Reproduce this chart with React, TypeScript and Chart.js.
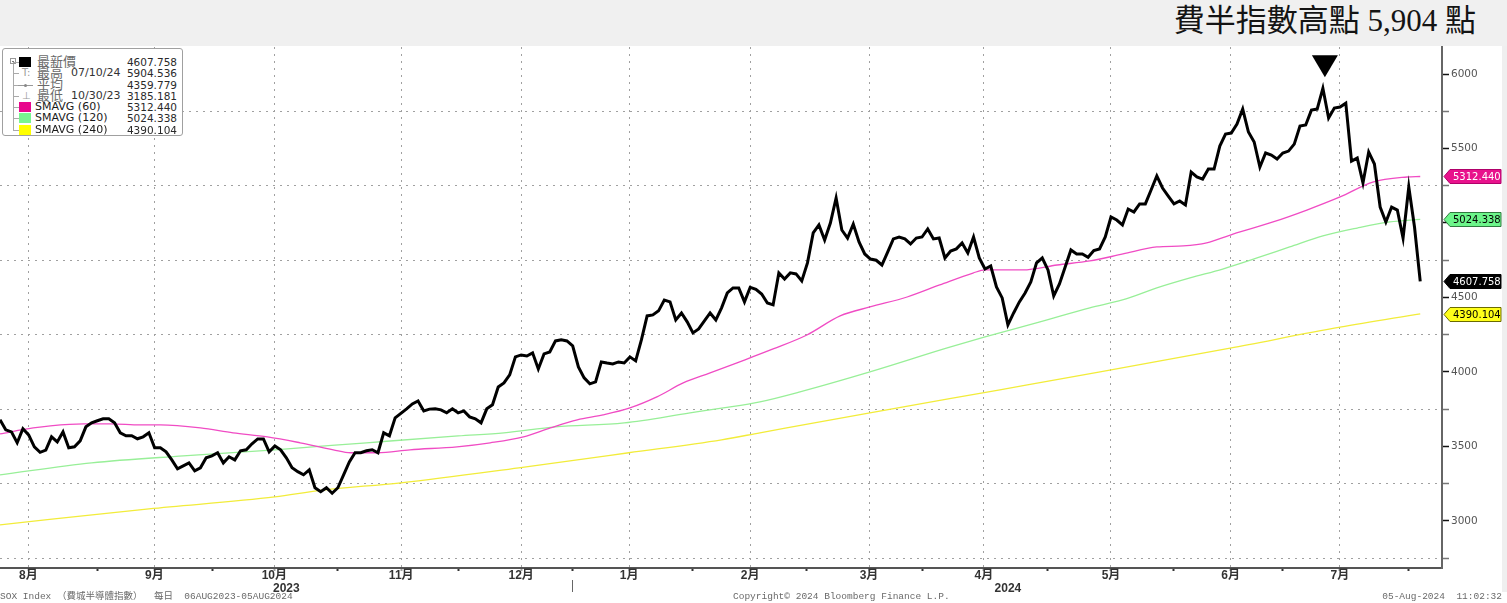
import React, { useEffect, useRef } from 'react';
import { Chart, registerables } from 'chart.js';

Chart.register(...registerables);

// ---- daily closes (trading-day index 0 .. 248) ----
const priceValues = [
  3678, 3611, 3597, 3524, 3618, 3577, 3497, 3460, 3475, 3564,
  3530, 3597, 3490, 3497, 3537, 3631, 3658, 3672, 3685, 3685,
  3658, 3591, 3571, 3571, 3551, 3564, 3591, 3490, 3490, 3463,
  3409, 3349, 3369, 3389, 3336, 3356, 3423, 3436, 3457, 3389,
  3430, 3409, 3470, 3477, 3517, 3550, 3550, 3463, 3503, 3477,
  3423, 3356, 3330, 3309, 3342, 3222, 3195, 3222, 3185.181, 3222,
  3309, 3396, 3457, 3457, 3470, 3477, 3457, 3591, 3571, 3691,
  3722, 3752, 3785, 3805, 3738, 3750, 3752, 3745, 3725, 3752,
  3725, 3738, 3698, 3685, 3658, 3752, 3779, 3899, 3926, 3980,
  4101, 4114, 4107, 4128, 4020, 4121, 4134, 4208, 4215, 4208,
  4175, 4034, 3960, 3920, 3933, 4067, 4060, 4054, 4067, 4060,
  4101, 4074, 4215, 4376, 4383, 4410, 4483, 4470, 4349, 4396,
  4336, 4262, 4289, 4342, 4396, 4349, 4430, 4530, 4564, 4564,
  4470, 4568, 4555, 4523, 4463, 4450, 4665, 4624, 4665, 4658,
  4611, 4732, 4933, 4987, 4886, 5000, 5168, 4953, 4899, 4993,
  4873, 4792, 4758, 4750, 4718, 4805, 4893, 4906, 4893, 4859,
  4899, 4906, 4960, 4893, 4899, 4765, 4812, 4826, 4866, 4799,
  4906, 4765, 4691, 4711, 4571, 4497, 4316, 4396, 4470, 4530,
  4604, 4732, 4765, 4685, 4510, 4591, 4705, 4819, 4792, 4792,
  4770, 4815, 4826, 4906, 5040, 5020, 4987, 5094, 5074, 5128,
  5128, 5222, 5316, 5235, 5181, 5128, 5148, 5121, 5342, 5309,
  5295, 5362, 5362, 5517, 5597, 5604, 5664, 5765, 5611, 5544,
  5376, 5470, 5456, 5430, 5470, 5483, 5530, 5651, 5658, 5758,
  5765, 5904.536, 5705, 5772, 5779, 5805, 5416, 5436, 5269, 5477,
  5396, 5107, 5007, 5107, 5087, 4899, 5242, 4973, 4607.758,
];

// ---- moving averages, sampled along the drawn curves (day index, value) ----
const sma60Days = [0, 5.8, 8.8, 14.6, 19.3, 24.5, 28, 35, 40.7, 46.7, 52.4, 58.2, 61.2, 65.9, 71.6, 79.8, 85.6, 91.4, 96.1, 100.8, 105.3, 110, 114.7, 119.3, 124, 128.7, 135, 140.9, 146.7, 151.9, 158.4, 164.1, 169.9, 172, 178.6, 184.6, 190.3, 196.1, 202, 206.6, 210.7, 215.3, 222.3, 228.2, 234, 239.7, 245.7, 248];
const sma60Values = [3584, 3624, 3638, 3651, 3651, 3644, 3644, 3624, 3591, 3564, 3524, 3477, 3457, 3457, 3477, 3497, 3524, 3564, 3624, 3678, 3711, 3758, 3832, 3926, 3993, 4061, 4154, 4248, 4376, 4436, 4503, 4584, 4664, 4685, 4685, 4718, 4745, 4792, 4839, 4846, 4866, 4926, 5007, 5087, 5175, 5275, 5309, 5312.44];

const sma120Days = [0, 16, 32, 48, 64, 80, 88, 97, 109, 120.5, 126.3, 132.7, 139.7, 151.9, 165.4, 172, 181.6, 190.3, 196, 202, 207.8, 213.5, 219.5, 225.2, 231, 237, 242.7, 248];
const sma120Values = [3309, 3389, 3436, 3477, 3524, 3570, 3591, 3631, 3658, 3725, 3758, 3799, 3866, 4000, 4161, 4235, 4336, 4430, 4483, 4564, 4631, 4691, 4765, 4839, 4913, 4966, 5007, 5024.338];

const sma240Days = [0, 26, 48, 56, 70, 90.6, 109.8, 126, 132.7, 151.9, 174.6, 192.1, 214.8, 234, 248];
const sma240Values = [2973, 3080, 3160, 3205, 3255, 3356, 3457, 3544, 3591, 3725, 3880, 4000, 4160, 4300, 4390.104];

// ---- axis ticks ----
const monthLabels = ['8月', '9月', '10月', '11月', '12月', '1月', '2月', '3月', '4月', '5月', '6月', '7月'];
const monthCenters = [4.96, 26.95, 47.9, 70.06, 91.0, 109.86, 130.98, 151.75, 171.8, 194.0, 214.9, 233.97];
const monthStarts = [17, 37.1, 58.9, 80, 99.9, 120.9, 140.9, 161, 183, 205, 224, 246];
const yearLabels = ['2023', '2024'];
const yearCenters = [50, 176];
const yearBreaks = [99.9];
const yTickValues = [2750, 3000, 3250, 3500, 3750, 4000, 4250, 4500, 4750, 5000, 5250, 5500, 5750, 6000];

// ---- legend ----
const legendNames = ['最新價', '最高', '平均', '最低', 'SMAVG (60)', 'SMAVG (120)', 'SMAVG (240)'];
const legendDates = ['', '07/10/24', '', '10/30/23', '', '', ''];
const legendValues = ['4607.758', '5904.536', '4359.779', '3185.181', '5312.440', '5024.338', '4390.104'];
const legendSwatches = ['#000000', '', '', '', '#e8078c', '#78f590', '#ffff00'];

const lineColors = ['#000000', '#f04cc4', '#98ef98', '#f2ec3a'];
const tagFill = ['#000000', '#e8128c', '#6cf58a', '#ffff1a'];
const tagText = ['#ffffff', '#ffffff', '#000000', '#000000'];
const tagStroke = ['#000000', '#b0006a', '#2f7a3f', '#6b6b00'];

const X_MIN = 0;
const X_MAX = 251.8;

const isIn = (arr: number[], v: number) => arr.some((a) => Math.abs(a - v) < 1e-6);

export default function App() {
  const ref = useRef<HTMLCanvasElement | null>(null);

  useEffect(() => {
    document.body.style.margin = '0';
    const canvas = ref.current;
    if (!canvas) return;

    const tagPlugin = {
      id: 'valueTags',
      afterDraw(chart: any) {
        const { ctx, chartArea } = chart;
        const y = chart.scales.y;
        const order = [1, 2, 0, 3];
        ctx.save();
        order.forEach((di) => {
          const data = chart.data.datasets[di].data as any[];
          const v = data[data.length - 1].y;
          const py = Math.round(y.getPixelForValue(v)) + 0.5;
          const x0 = chartArea.right + 2;
          const x1 = x0 + 6;
          const x2 = 1501;
          const h = 7;
          ctx.beginPath();
          ctx.moveTo(x0, py);
          ctx.lineTo(x1, py - h);
          ctx.lineTo(x2, py - h);
          ctx.lineTo(x2, py + h);
          ctx.lineTo(x1, py + h);
          ctx.closePath();
          ctx.fillStyle = tagFill[di];
          ctx.fill();
          ctx.lineWidth = 1;
          ctx.strokeStyle = tagStroke[di];
          ctx.stroke();
          ctx.fillStyle = tagText[di];
          ctx.font = '10px "DejaVu Sans"';
          ctx.textBaseline = 'middle';
          ctx.textAlign = 'left';
          ctx.fillText(v.toFixed(3), x1 + 3, py + 0.5);
        });
        ctx.restore();
      },
    };

    const peakPlugin = {
      id: 'peakMarker',
      afterDatasetsDraw(chart: any) {
        const { ctx } = chart;
        const data = chart.data.datasets[0].data as any[];
        let best = data[0];
        data.forEach((p: any) => { if (p.y > best.y) best = p; });
        const px = chart.scales.x.getPixelForValue(best.x);
        const py = chart.scales.y.getPixelForValue(best.y);
        ctx.save();
        ctx.beginPath();
        ctx.moveTo(px + 2, py - 11);
        ctx.lineTo(px - 11, py - 33);
        ctx.lineTo(px + 15, py - 33);
        ctx.closePath();
        ctx.fillStyle = '#000';
        ctx.fill();
        ctx.restore();
      },
    };

    const chart = new Chart(canvas, {
      type: 'line',
      data: {
        datasets: [
          {
            label: '最新價',
            data: priceValues.map((v, i) => ({ x: i, y: v })),
            borderColor: lineColors[0],
            borderWidth: 3,
            pointRadius: 0,
            tension: 0,
          },
          {
            label: 'SMAVG (60)',
            data: sma60Days.map((d, i) => ({ x: d, y: sma60Values[i] })),
            borderColor: lineColors[1],
            borderWidth: 1.3,
            pointRadius: 0,
            cubicInterpolationMode: 'monotone',
          },
          {
            label: 'SMAVG (120)',
            data: sma120Days.map((d, i) => ({ x: d, y: sma120Values[i] })),
            borderColor: lineColors[2],
            borderWidth: 1.3,
            pointRadius: 0,
            cubicInterpolationMode: 'monotone',
          },
          {
            label: 'SMAVG (240)',
            data: sma240Days.map((d, i) => ({ x: d, y: sma240Values[i] })),
            borderColor: lineColors[3],
            borderWidth: 1.3,
            pointRadius: 0,
            cubicInterpolationMode: 'monotone',
          },
        ],
      },
      options: {
        animation: false,
        responsive: false,
        maintainAspectRatio: false,
        layout: { padding: { top: 1, left: 0, right: 0, bottom: 9 } },
        plugins: { legend: { display: false }, tooltip: { enabled: false } },
        scales: {
          x: {
            type: 'linear',
            position: 'bottom',
            min: X_MIN,
            max: X_MAX,
            bounds: 'data',
            afterBuildTicks: (s: any) => {
              s.ticks = [...monthCenters, ...monthStarts].sort((a, b) => a - b).map((v) => ({ value: v }));
            },
            afterFit: (s: any) => { s.height = 12; s.paddingLeft = 0; s.paddingRight = 0; },
            grid: {
              color: (c: any) => (c.tick && isIn(monthCenters, c.tick.value) ? '#a0a0a0' : 'rgba(0,0,0,0)'),
              tickColor: (c: any) => (c.tick && isIn(monthCenters, c.tick.value) ? '#a0a0a0' : '#333'),
              tickLength: 3,
              tickWidth: 2,
              lineWidth: 1,
            },
            border: { display: true, color: '#555', width: 2, dash: [2, 5] },
            ticks: {
              autoSkip: false,
              maxRotation: 0,
              minRotation: 0,
              padding: -3,
              color: '#333',
              font: { family: '"Liberation Sans", "Noto Sans CJK TC"', size: 12, weight: 'bold' },
              callback: (v: any) => {
                const k = monthCenters.findIndex((m) => Math.abs(m - v) < 1e-6);
                return k >= 0 ? monthLabels[k] : '';
              },
            },
          },
          xYear: {
            type: 'linear',
            position: 'bottom',
            min: X_MIN,
            max: X_MAX,
            bounds: 'data',
            afterBuildTicks: (s: any) => {
              s.ticks = [...yearCenters, ...yearBreaks].sort((a, b) => a - b).map((v) => ({ value: v }));
            },
            afterFit: (s: any) => { s.height = 14; s.paddingLeft = 0; s.paddingRight = 0; },
            grid: {
              drawOnChartArea: false,
              color: (c: any) => (c.tick && isIn(yearBreaks, c.tick.value) ? '#666' : 'rgba(0,0,0,0)'),
              tickColor: (c: any) => (c.tick && isIn(yearBreaks, c.tick.value) ? '#666' : 'rgba(0,0,0,0)'),
              tickLength: 12,
              tickWidth: 1,
            },
            border: { display: false },
            ticks: {
              autoSkip: false,
              maxRotation: 0,
              minRotation: 0,
              padding: -11,
              color: '#333',
              font: { family: '"Liberation Sans", "Noto Sans CJK TC"', size: 12, weight: 'bold' },
              callback: (v: any) => {
                const k = yearCenters.findIndex((m) => Math.abs(m - v) < 1e-6);
                return k >= 0 ? yearLabels[k] : '';
              },
            },
          },
          y: {
            type: 'linear',
            position: 'right',
            min: 2683,
            max: 6182,
            bounds: 'data',
            afterBuildTicks: (s: any) => { s.ticks = yTickValues.map((v) => ({ value: v })); },
            afterFit: (s: any) => { s.width = 65; s.paddingTop = 0; s.paddingBottom = 0; },
            grid: {
              color: (c: any) => (c.tick && c.tick.value % 500 === 0 ? 'rgba(0,0,0,0)' : '#a0a0a0'),
              tickColor: (c: any) => (c.tick && c.tick.value % 500 === 0 ? '#111' : '#777'),
              tickLength: 7,
              tickWidth: 1.5,
              lineWidth: 1,
            },
            border: { display: true, color: '#666', width: 2, dash: [2, 5] },
            ticks: {
              padding: 2,
              color: '#555',
              font: { family: '"DejaVu Sans"', size: 10.5 },
              callback: (v: any) => (Number(v) % 500 === 0 ? String(v) : ''),
            },
          },
        },
      } as any,
      plugins: [peakPlugin, tagPlugin],
    });

    return () => chart.destroy();
  }, []);

  const rowTop = (i: number) => 7 + i * 11.25;

  return (
    <div style={{ position: 'relative', width: 1507, height: 603, background: '#fff', overflow: 'hidden', fontFamily: '"DejaVu Sans", "Noto Sans CJK TC", sans-serif' }}>
      <div style={{ position: 'absolute', left: 0, top: 0, width: 1507, height: 46, background: '#f0f0f0' }} />
      <div style={{ position: 'absolute', right: 31, top: 1, fontFamily: '"Liberation Serif", "Noto Sans CJK TC", serif', fontSize: 31, lineHeight: '40px', color: '#141414', whiteSpace: 'nowrap' }}>
        費半指數高點 5,904 點
      </div>
      <div style={{ position: 'absolute', left: 1502, top: 46, width: 5, height: 546, background: '#efefef' }} />
      <canvas ref={ref} width={1507} height={557} style={{ position: 'absolute', left: 0, top: 46, width: 1507, height: 557 }} />

      {/* legend */}
      <div style={{ position: 'absolute', left: 2, top: 48, width: 181, height: 88, border: '1px solid #a0a0a0', borderRadius: 3, background: '#fff', boxSizing: 'border-box' }}>
        <div style={{ position: 'absolute', left: 7, top: 9, width: 6, height: 6, border: '1px solid #999', boxSizing: 'border-box', background: '#fff' }}>
          <div style={{ position: 'absolute', left: 1, top: 2, width: 2, height: 1, background: '#777' }} />
        </div>
        <div style={{ position: 'absolute', left: 10, top: 15, width: 1, height: 66, background: '#aaa' }} />
        {legendNames.map((name, i) => {
          const top = rowTop(i);
          const isCjk = i < 4;
          return (
            <div key={i} style={{ position: 'absolute', left: 0, top, width: 179, height: 12 }}>
              <div style={{ position: 'absolute', left: 10, top: 6, width: 6, height: 1, background: '#aaa' }} />
              {legendSwatches[i] ? (
                <div style={{ position: 'absolute', left: 16, top: 1, width: 12, height: 10, background: legendSwatches[i] }} />
              ) : null}
              {i === 1 ? <div style={{ position: 'absolute', left: 19, top: 0, fontSize: 10, color: '#999', lineHeight: '12px' }}>T:</div> : null}
              {i === 2 ? (
                <div style={{ position: 'absolute', left: 15, top: 6, width: 15, height: 1, background: '#999' }}>
                  <div style={{ position: 'absolute', left: 6, top: -1, width: 3, height: 3, borderRadius: 2, background: '#888' }} />
                </div>
              ) : null}
              {i === 3 ? <div style={{ position: 'absolute', left: 19, top: 0, fontSize: 10, color: '#999', lineHeight: '12px' }}>⊥</div> : null}
              <div style={{ position: 'absolute', left: isCjk ? 34 : 32, top: isCjk ? -1 : 0, fontSize: isCjk ? 13 : 11, lineHeight: isCjk ? '13px' : '12px', color: isCjk ? '#6a6a6a' : '#1a1a1a', whiteSpace: 'nowrap' }}>
                {name}
              </div>
              {legendDates[i] ? (
                <div style={{ position: 'absolute', left: 68, top: 0, fontSize: 11, lineHeight: '12px', color: '#333', whiteSpace: 'nowrap' }}>{legendDates[i]}</div>
              ) : null}
              <div style={{ position: 'absolute', right: 5, top: 0, fontSize: 10.5, lineHeight: '12px', color: '#2a2a2a', whiteSpace: 'nowrap' }}>{legendValues[i]}</div>
            </div>
          );
        })}
      </div>

      {/* footer */}
      <div style={{ position: 'absolute', left: 0, top: 591, fontFamily: '"Liberation Mono", "Noto Sans CJK TC", monospace', fontSize: 9.5, lineHeight: '12px', color: '#6a6a6a', whiteSpace: 'pre' }}>
        {'SOX Index （費城半導體指數）  每日  06AUG2023-05AUG2024'}
      </div>
      <div style={{ position: 'absolute', left: 733, top: 591, fontFamily: '"Liberation Mono", monospace', fontSize: 9.5, lineHeight: '12px', color: '#6a6a6a', whiteSpace: 'pre' }}>
        Copyright© 2024 Bloomberg Finance L.P.
      </div>
      <div style={{ position: 'absolute', right: 5, top: 591, fontFamily: '"Liberation Mono", monospace', fontSize: 9.5, lineHeight: '12px', color: '#6a6a6a', whiteSpace: 'pre' }}>
        {'05-Aug-2024  11:02:32'}
      </div>
    </div>
  );
}
